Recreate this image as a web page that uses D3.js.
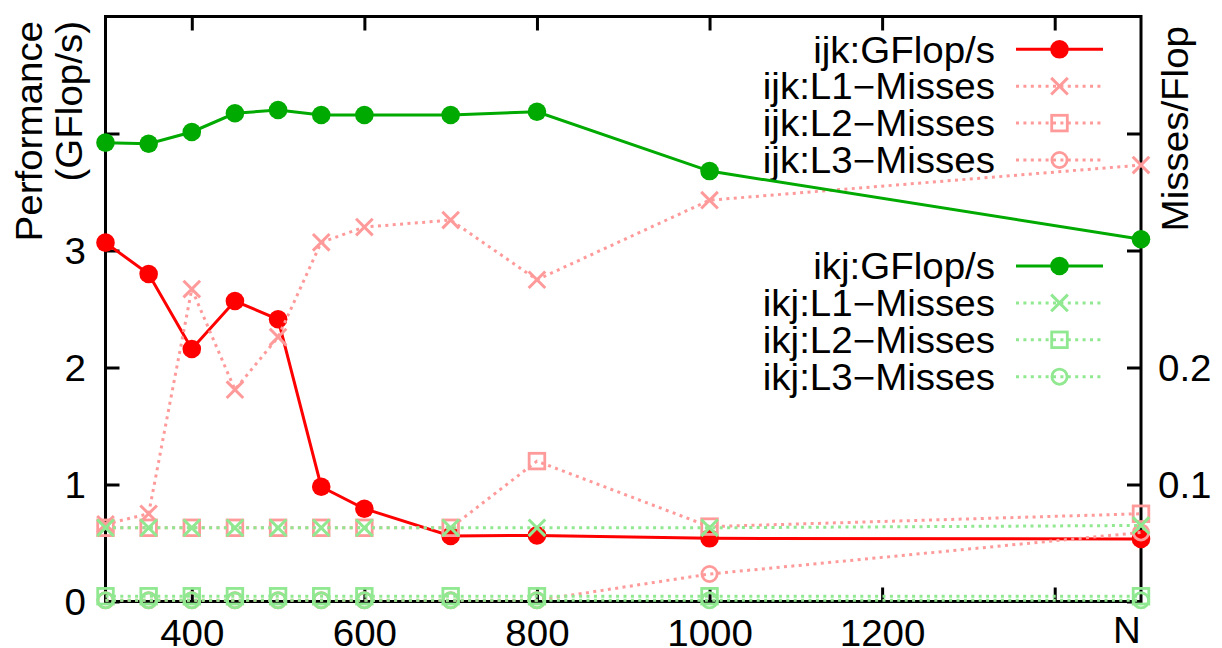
<!DOCTYPE html>
<html><head><meta charset="utf-8">
<script src="https://cdn.jsdelivr.net/npm/d3@7"></script>
<style>body{margin:0;background:#fff}svg{display:block}</style>
</head><body>
<svg id="c" width="1222" height="648"></svg>
<script>
// ---- data ----
const N = [300, 350, 400, 450, 500, 550, 600, 700, 800, 1000, 1500];
const ijkGflops = [3.067, 2.799, 2.158, 2.568, 2.412, 0.981, 0.793, 0.560, 0.565, 0.540, 0.534];
const ijkL1 = [0.066, 0.075, 0.267, 0.181, 0.226, 0.307, 0.320, 0.326, 0.275, 0.343, 0.373];
const ijkL2 = [0.063, 0.063, 0.063, 0.063, 0.063, 0.063, 0.063, 0.063, 0.120, 0.064, 0.075];
const ijkL3 = [0.001, 0.001, 0.001, 0.001, 0.001, 0.001, 0.001, 0.001, 0.001, 0.0235, 0.059];
const ikjGflops = [3.922, 3.912, 4.013, 4.173, 4.201, 4.158, 4.158, 4.158, 4.186, 3.679, 3.096];
const ikjL1 = [0.063, 0.063, 0.063, 0.063, 0.063, 0.063, 0.063, 0.063, 0.063, 0.063, 0.065];
const ikjL2 = [0.0045, 0.0045, 0.0045, 0.0045, 0.0045, 0.0045, 0.0045, 0.0045, 0.0045, 0.0045, 0.0045];
const ikjL3 = [0.001, 0.001, 0.001, 0.001, 0.001, 0.001, 0.001, 0.001, 0.001, 0.001, 0.001];

const xTickValues = [400, 600, 800, 1000, 1200, 1400];
const xTickLabels = ["400", "600", "800", "1000", "1200", ""];
const yTickValues = [0, 1, 2, 3, 4];
const yTickLabels = ["0", "1", "2", "3", ""];
const y2TickValues = [0, 0.1, 0.2, 0.3, 0.4];
const y2TickLabels = ["", "0.1", "0.2", "", ""];
const ijkNames = ["ijk:GFlop/s", "ijk:L1\u2212Misses", "ijk:L2\u2212Misses", "ijk:L3\u2212Misses"];
const ikjNames = ["ikj:GFlop/s", "ikj:L1\u2212Misses", "ikj:L2\u2212Misses", "ikj:L3\u2212Misses"];
const yLabelLines = ["Performance", "(GFlop/s)"];
const y2Label = "Misses/Flop";
const xLabel = "N";

// ---- layout ----
const FONT = "'Liberation Sans', Arial, Helvetica, sans-serif";
const FS = 36, SX = 1.07;
const L = 105.5, R = 1141, T = 16.5, B = 601.5;
const RED = "#ff0000", GREEN = "#00aa00", PINK = "#ff9a9a", LGREEN = "#90e890";

const svg = d3.select("#c");
const x = d3.scaleLinear().domain([300, 1500]).range([L, R]);
const y = d3.scaleLinear().domain([0, 5]).range([B, T]);
const y2 = d3.scaleLinear().domain([0, 0.5]).range([B, T]);

const fmt = (vals, labels) => d => labels[vals.indexOf(d)];

// frame
svg.append("rect").attr("x", L).attr("y", T).attr("width", R - L).attr("height", B - T)
  .attr("fill", "none").attr("stroke", "#000").attr("stroke-width", 3);

function styleAxis(g) {
  g.attr("font-size", FS).attr("font-family", FONT);
  g.select(".domain").remove();
  g.selectAll(".tick line").attr("stroke", "#000").attr("stroke-width", 3);
}

const gxb = svg.append("g").attr("transform", `translate(0,${B})`)
  .call(d3.axisBottom(x).tickValues(xTickValues).tickFormat(fmt(xTickValues, xTickLabels)).tickSizeInner(-14).tickSizeOuter(0));
styleAxis(gxb);
gxb.selectAll(".tick text").attr("y", 0).attr("dy", 0).attr("fill", "#000")
  .attr("transform", `translate(0,44.5) scale(${SX},1)`);

const gxt = svg.append("g").attr("transform", `translate(0,${T})`)
  .call(d3.axisTop(x).tickValues(xTickValues).tickFormat(() => "").tickSizeInner(-14).tickSizeOuter(0));
styleAxis(gxt);

const gyl = svg.append("g").attr("transform", `translate(${L},0)`)
  .call(d3.axisLeft(y).tickValues(yTickValues).tickFormat(fmt(yTickValues, yTickLabels)).tickSizeInner(-14).tickSizeOuter(0));
styleAxis(gyl);
gyl.selectAll(".tick text").attr("x", 0).attr("dy", 0).attr("fill", "#000")
  .attr("transform", `translate(-19.5,12.9) scale(${SX},1)`);

const gyr = svg.append("g").attr("transform", `translate(${R},0)`)
  .call(d3.axisRight(y2).tickValues(y2TickValues).tickFormat(fmt(y2TickValues, y2TickLabels)).tickSizeInner(-14).tickSizeOuter(0));
styleAxis(gyr);
gyr.selectAll(".tick text").attr("x", 0).attr("dy", 0).attr("fill", "#000")
  .attr("transform", `translate(17,12.9) scale(${SX},1)`);

// axis titles
const txt = (s, tr, anchor) => svg.append("text").text(s).attr("font-family", FONT).attr("font-size", FS)
  .attr("fill", "#000").attr("text-anchor", anchor).attr("transform", tr);
txt(yLabelLines[0], `translate(42,21) rotate(-90) scale(${SX},1)`, "end");
txt(yLabelLines[1], `translate(82,21) rotate(-90) scale(${SX},1)`, "end");
txt(y2Label, `translate(1188,26) rotate(-90) scale(${SX},1)`, "end");
txt(xLabel, `translate(1127,643) scale(${SX},1)`, "middle");

// markers
function drawMarker(g, kind, color, cx, cy) {
  if (kind === "dot") {
    g.append("circle").attr("cx", cx).attr("cy", cy).attr("r", 9.3).attr("fill", color);
  } else if (kind === "x") {
    const s = 8.3;
    g.append("path").attr("d", `M${cx - s},${cy - s}L${cx + s},${cy + s}M${cx - s},${cy + s}L${cx + s},${cy - s}`)
      .attr("stroke", color).attr("stroke-width", 3).attr("fill", "none");
  } else if (kind === "square") {
    g.append("rect").attr("x", cx - 7.8).attr("y", cy - 7.8).attr("width", 15.6).attr("height", 15.6)
      .attr("stroke", color).attr("stroke-width", 2.8).attr("fill", "none");
  } else if (kind === "circle") {
    g.append("circle").attr("cx", cx).attr("cy", cy).attr("r", 7.6)
      .attr("stroke", color).attr("stroke-width", 2.8).attr("fill", "none");
  }
}

const series = [
  { name: ijkNames[0], vals: ijkGflops, sc: y, color: RED, dotted: false, mk: "dot" },
  { name: ijkNames[1], vals: ijkL1, sc: y2, color: PINK, dotted: true, mk: "x" },
  { name: ijkNames[2], vals: ijkL2, sc: y2, color: PINK, dotted: true, mk: "square" },
  { name: ijkNames[3], vals: ijkL3, sc: y2, color: PINK, dotted: true, mk: "circle" },
  { name: ikjNames[0], vals: ikjGflops, sc: y, color: GREEN, dotted: false, mk: "dot" },
  { name: ikjNames[1], vals: ikjL1, sc: y2, color: LGREEN, dotted: true, mk: "x" },
  { name: ikjNames[2], vals: ikjL2, sc: y2, color: LGREEN, dotted: true, mk: "square" },
  { name: ikjNames[3], vals: ikjL3, sc: y2, color: LGREEN, dotted: true, mk: "circle" }
];
const legendY = [49.3, 86.2, 123.1, 160, 266, 302.9, 339.8, 376.7];
const DASH = "3,4.4";

series.forEach((s, i) => {
  const g = svg.append("g");
  const pts = N.map((n, k) => [n, s.vals[k]]);
  const line = d3.line().x(d => x(d[0])).y(d => s.sc(d[1]));
  g.append("path").attr("d", line(pts)).attr("fill", "none").attr("stroke", s.color)
    .attr("stroke-width", 3).attr("stroke-dasharray", s.dotted ? DASH : null);
  pts.forEach(d => drawMarker(g, s.mk, s.color, x(d[0]), s.sc(d[1])));

  // legend entry
  const ly = legendY[i];
  svg.append("text").text(s.name).attr("font-family", FONT).attr("font-size", FS).attr("fill", "#000")
    .attr("text-anchor", "end").attr("transform", `translate(995,${ly + 13.2}) scale(${SX},1)`);
  const lg = svg.append("g");
  lg.append("line").attr("x1", 1016).attr("x2", 1103).attr("y1", ly).attr("y2", ly)
    .attr("stroke", s.color).attr("stroke-width", 3).attr("stroke-dasharray", s.dotted ? DASH : null);
  drawMarker(lg, s.mk, s.color, 1059.5, ly);
});
</script>
</body></html>
